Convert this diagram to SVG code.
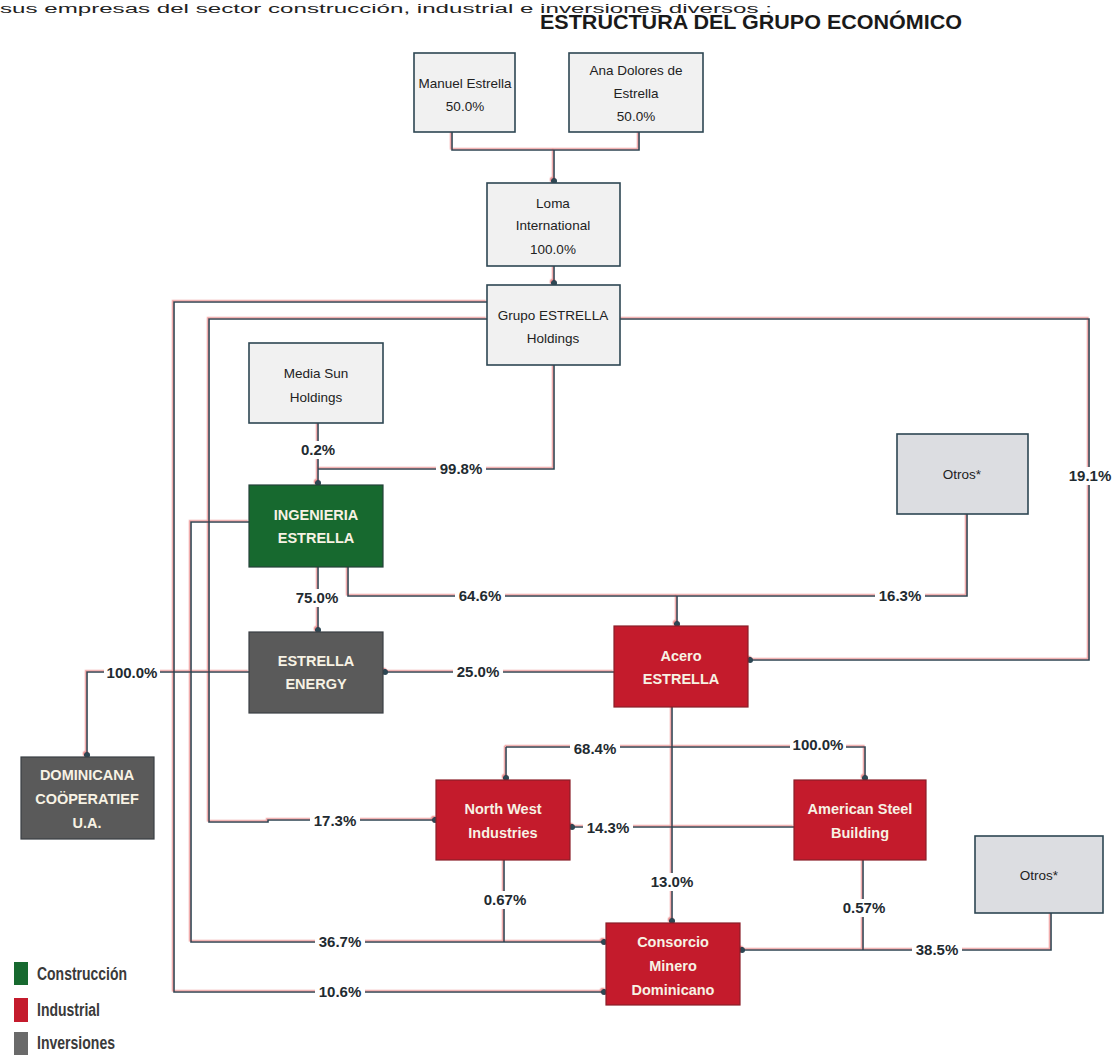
<svg xmlns="http://www.w3.org/2000/svg" width="1116" height="1055" viewBox="0 0 1116 1055">
<style>
  text { font-family: "Liberation Sans", Arial, sans-serif; }
  .box { fill: #f1f1f1; stroke: #2d4653; stroke-width: 1.6; }
  .otros { fill: #dcdde1; stroke: #2d4653; stroke-width: 1.6; }
  .green { fill: #17692f; stroke: #24423a; stroke-width: 1.2; }
  .red { fill: #c41b2c; stroke: #8a1f28; stroke-width: 1.2; }
  .gray { fill: #5a5a5a; stroke: #3a3f44; stroke-width: 1.2; }
  .lt { font-size: 13.5px; fill: #222; text-anchor: middle; }
  .dt { font-size: 14.5px; font-weight: bold; fill: #f7f2e4; text-anchor: middle; }
  .pc { font-size: 15px; font-weight: bold; fill: #1f2b31; text-anchor: middle; }
  .lbg { fill: #ffffff; }
  .ln { fill: none; stroke: #2d4653; stroke-width: 1.6; }
  .leg { font-size: 18px; font-weight: bold; fill: #3a3a3a; }
</style>
<defs>
  <marker id="dot" viewBox="0 0 8 8" refX="4" refY="4" markerWidth="7" markerHeight="7" markerUnits="userSpaceOnUse">
    <circle cx="4" cy="4" r="3.5" fill="#2d4653"/>
  </marker>
  <filter id="sh" x="-2%" y="-2%" width="104%" height="104%">
    <feDropShadow dx="-1.3" dy="-1.3" stdDeviation="0.6" flood-color="#e04848" flood-opacity="0.55"/>
  </filter>
</defs>
<rect x="0" y="0" width="1116" height="1055" fill="#ffffff"/>

<text x="0" y="12.5" font-size="12.5" fill="#222" textLength="772" lengthAdjust="spacingAndGlyphs">sus empresas del sector construcción, industrial e inversiones diversos :</text>
<text x="540" y="29" font-size="20" font-weight="bold" fill="#1a1a1a" textLength="422" lengthAdjust="spacingAndGlyphs">ESTRUCTURA DEL GRUPO ECONÓMICO</text>

<g id="connectors" filter="url(#sh)">
  <path class="ln" d="M452,132 V150 H639 V132"/>
  <path class="ln" d="M554,150 V181" marker-end="url(#dot)"/>
  <path class="ln" d="M554,266 V283" marker-end="url(#dot)"/>
  <path class="ln" d="M487,302 H174 V992 H604" marker-end="url(#dot)"/>
  <path class="ln" d="M487,319 H209 V822 H268 V820 H435" marker-end="url(#dot)"/>
  <path class="ln" d="M620,319 H1089 V660 H750" marker-end="url(#dot)"/>
  <path class="ln" d="M554,365 V469 H318"/>
  <path class="ln" d="M318,423 V483" marker-end="url(#dot)"/>
  <path class="ln" d="M318,567 V630" marker-end="url(#dot)"/>
  <path class="ln" d="M348,567 V596 H967 V514"/>
  <path class="ln" d="M677,596 V624" marker-end="url(#dot)"/>
  <path class="ln" d="M249,522 H191 V942 H604" marker-end="url(#dot)"/>
  <path class="ln" d="M614,672 H385" marker-end="url(#dot)"/>
  <path class="ln" d="M249,672 H87 V755" marker-end="url(#dot)"/>
  <path class="ln" d="M672,707 V921" marker-end="url(#dot)"/>
  <path class="ln" d="M506,747 V778" marker-end="url(#dot)"/>
  <path class="ln" d="M506,747 H865 V778" marker-end="url(#dot)"/>
  <path class="ln" d="M794,827 H572" marker-end="url(#dot)"/>
  <path class="ln" d="M504,860 V942"/>
  <path class="ln" d="M863,860 V950"/>
  <path class="ln" d="M1051,913 V950 H742" marker-end="url(#dot)"/>
</g>

<g id="labels">
  <rect class="lbg" x="298" y="441" width="40" height="18"/><text class="pc" x="318" y="455">0.2%</text>
  <rect class="lbg" x="436" y="460" width="50" height="18"/><text class="pc" x="461" y="474">99.8%</text>
  <rect class="lbg" x="292" y="589" width="50" height="18"/><text class="pc" x="317" y="603">75.0%</text>
  <rect class="lbg" x="455" y="587" width="50" height="18"/><text class="pc" x="480" y="601">64.6%</text>
  <rect class="lbg" x="875" y="587" width="50" height="18"/><text class="pc" x="900" y="601">16.3%</text>
  <rect class="lbg" x="1065" y="467" width="50" height="18"/><text class="pc" x="1090" y="481">19.1%</text>
  <rect class="lbg" x="453" y="663" width="50" height="18"/><text class="pc" x="478" y="677">25.0%</text>
  <rect class="lbg" x="104" y="664" width="56" height="18"/><text class="pc" x="132" y="678">100.0%</text>
  <rect class="lbg" x="310" y="812" width="50" height="18"/><text class="pc" x="335" y="826">17.3%</text>
  <rect class="lbg" x="570" y="740" width="50" height="18"/><text class="pc" x="595" y="754">68.4%</text>
  <rect class="lbg" x="790" y="736" width="56" height="18"/><text class="pc" x="818" y="750">100.0%</text>
  <rect class="lbg" x="583" y="819" width="50" height="18"/><text class="pc" x="608" y="833">14.3%</text>
  <rect class="lbg" x="647" y="873" width="50" height="18"/><text class="pc" x="672" y="887">13.0%</text>
  <rect class="lbg" x="480" y="891" width="50" height="18"/><text class="pc" x="505" y="905">0.67%</text>
  <rect class="lbg" x="839" y="899" width="50" height="18"/><text class="pc" x="864" y="913">0.57%</text>
  <rect class="lbg" x="315" y="933" width="50" height="18"/><text class="pc" x="340" y="947">36.7%</text>
  <rect class="lbg" x="315" y="983" width="50" height="18"/><text class="pc" x="340" y="997">10.6%</text>
  <rect class="lbg" x="912" y="941" width="50" height="18"/><text class="pc" x="937" y="955">38.5%</text>
</g>

<g id="n-manuel">
  <rect class="box" x="414" y="53" width="101" height="79"/>
  <text class="lt" x="465" y="88">Manuel Estrella</text>
  <text class="lt" x="465" y="111">50.0%</text>
</g>
<g id="n-ana">
  <rect class="box" x="569" y="53" width="134" height="79"/>
  <text class="lt" x="636" y="75">Ana Dolores de</text>
  <text class="lt" x="636" y="98">Estrella</text>
  <text class="lt" x="636" y="121">50.0%</text>
</g>
<g id="n-loma">
  <rect class="box" x="487" y="183" width="133" height="83"/>
  <text class="lt" x="553" y="208">Loma</text>
  <text class="lt" x="553" y="230">International</text>
  <text class="lt" x="553" y="254">100.0%</text>
</g>
<g id="n-grupo">
  <rect class="box" x="487" y="285" width="133" height="80"/>
  <text class="lt" x="553" y="320">Grupo ESTRELLA</text>
  <text class="lt" x="553" y="343">Holdings</text>
</g>
<g id="n-mediasun">
  <rect class="box" x="249" y="343" width="134" height="80"/>
  <text class="lt" x="316" y="378">Media Sun</text>
  <text class="lt" x="316" y="402">Holdings</text>
</g>
<g id="n-otros1">
  <rect class="otros" x="897" y="434" width="131" height="80"/>
  <text class="lt" x="962" y="479">Otros*</text>
</g>
<g id="n-ingenieria">
  <rect class="green" x="249" y="485" width="134" height="82"/>
  <text class="dt" x="316" y="520">INGENIERIA</text>
  <text class="dt" x="316" y="543">ESTRELLA</text>
</g>
<g id="n-energy">
  <rect class="gray" x="249" y="632" width="134" height="81"/>
  <text class="dt" x="316" y="666">ESTRELLA</text>
  <text class="dt" x="316" y="689">ENERGY</text>
</g>
<g id="n-acero">
  <rect class="red" x="614" y="626" width="134" height="81"/>
  <text class="dt" x="681" y="661">Acero</text>
  <text class="dt" x="681" y="684">ESTRELLA</text>
</g>
<g id="n-dominicana">
  <rect class="gray" x="21" y="757" width="133" height="82"/>
  <text class="dt" x="87" y="780">DOMINICANA</text>
  <text class="dt" x="87" y="804">COÖPERATIEF</text>
  <text class="dt" x="87" y="828">U.A.</text>
</g>
<g id="n-northwest">
  <rect class="red" x="436" y="780" width="134" height="80"/>
  <text class="dt" x="503" y="814">North West</text>
  <text class="dt" x="503" y="838">Industries</text>
</g>
<g id="n-americansteel">
  <rect class="red" x="794" y="780" width="132" height="80"/>
  <text class="dt" x="860" y="814">American Steel</text>
  <text class="dt" x="860" y="838">Building</text>
</g>
<g id="n-otros2">
  <rect class="otros" x="975" y="836" width="128" height="77"/>
  <text class="lt" x="1039" y="880">Otros*</text>
</g>
<g id="n-consorcio">
  <rect class="red" x="606" y="923" width="134" height="82"/>
  <text class="dt" x="673" y="947">Consorcio</text>
  <text class="dt" x="673" y="971">Minero</text>
  <text class="dt" x="673" y="995">Dominicano</text>
</g>

<g id="legend">
  <rect x="14" y="962" width="14" height="23" fill="#17692f"/>
  <text class="leg" x="37" y="980" textLength="90" lengthAdjust="spacingAndGlyphs">Construcción</text>
  <rect x="14" y="998" width="14" height="24" fill="#c41b2c"/>
  <text class="leg" x="37" y="1016" textLength="63" lengthAdjust="spacingAndGlyphs">Industrial</text>
  <rect x="14" y="1032" width="14" height="23" fill="#6a6a6a"/>
  <text class="leg" x="37" y="1049" textLength="78" lengthAdjust="spacingAndGlyphs">Inversiones</text>
</g>
</svg>
